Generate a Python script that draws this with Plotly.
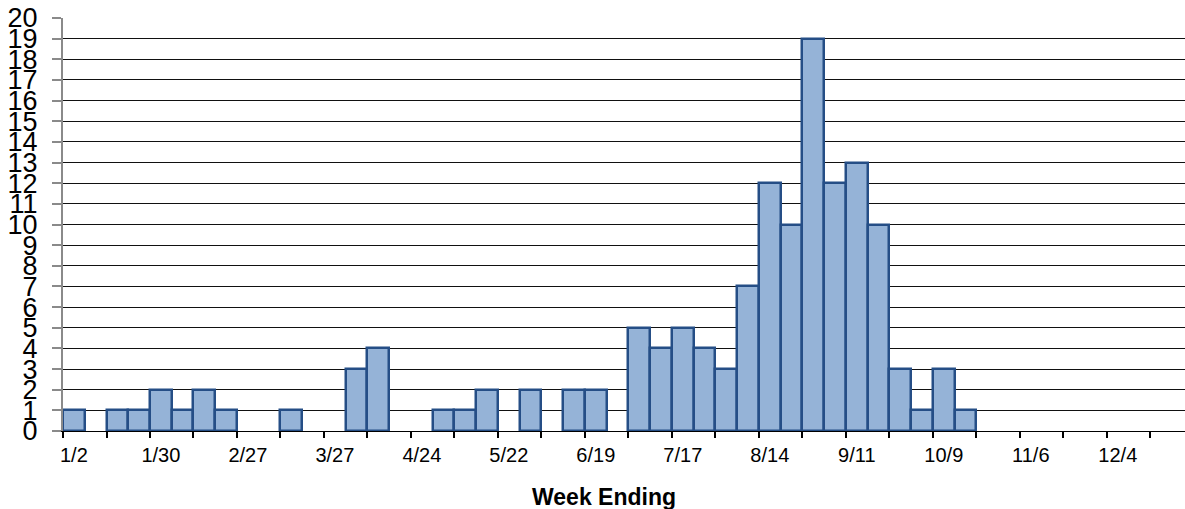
import plotly.graph_objects as go

weeks = ["1/2", "1/9", "1/16", "1/23", "1/30", "2/6", "2/13", "2/20", "2/27", "3/6",
         "3/13", "3/20", "3/27", "4/3", "4/10", "4/17", "4/24", "5/1", "5/8", "5/15",
         "5/22", "5/29", "6/5", "6/12", "6/19", "6/26", "7/3", "7/10", "7/17", "7/24",
         "7/31", "8/7", "8/14", "8/21", "8/28", "9/4", "9/11", "9/18", "9/25", "10/2",
         "10/9", "10/16", "10/23", "10/30", "11/6", "11/13", "11/20", "11/27", "12/4",
         "12/11", "12/18", "12/25"]

counts = [1, 0, 1, 1, 2, 1, 2, 1, 0, 0,
          1, 0, 0, 3, 4, 0, 0, 1, 1, 2,
          0, 2, 0, 2, 2, 0, 5, 4, 5, 4,
          3, 7, 12, 10, 19, 12, 13, 10, 3, 1,
          3, 1, 0, 0, 0, 0, 0, 0, 0,
          0, 0, 0]

tick_labels = ["1/2", "1/30", "2/27", "3/27", "4/24", "5/22", "6/19", "7/17",
               "8/14", "9/11", "10/9", "11/6", "12/4"]

y_ticks = list(range(0, 21))
x_title = "Week Ending"

xpos = list(range(len(weeks)))
yvals = [c if c > 0 else None for c in counts]

fig = go.Figure()
fig.add_trace(go.Bar(
    x=xpos, y=yvals, width=1,
    marker=dict(color="#95B3D7", line=dict(color="#254E86", width=2.5)),
    customdata=weeks,
    hovertemplate="%{customdata}: %{y}<extra></extra>",
))

fig.update_layout(
    width=1185, height=509,
    margin=dict(l=63, r=0, t=18, b=78),
    paper_bgcolor="white", plot_bgcolor="white",
    showlegend=False,
    font=dict(family="Liberation Sans, Arial, sans-serif", color="black"),
    bargap=0,
)

fig.update_xaxes(
    range=[-0.5, 51.09],
    tickmode="array",
    tickvals=[weeks.index(t) for t in tick_labels],
    ticktext=tick_labels,
    ticks="",
    tickfont=dict(size=20, color="black"),
    ticklabelstandoff=6,
    showgrid=False, zeroline=False,
    showline=True, linecolor="black", linewidth=1,
    minor=dict(tickmode="linear", tick0=-0.5, dtick=2, ticks="outside",
               ticklen=6, tickwidth=1.5, tickcolor="black", showgrid=False),
)

fig.update_yaxes(
    range=[0, 20],
    tickmode="array", tickvals=y_ticks, ticktext=[str(v) for v in y_ticks],
    ticks="outside", ticklen=9, tickwidth=2, tickcolor="#8a8a8a",
    tickfont=dict(size=27, color="black"),
    ticklabelstandoff=9,
    showgrid=True, gridcolor="#111111", gridwidth=1,
    zeroline=False,
    showline=True, linecolor="#8a8a8a", linewidth=2,
)

fig.add_annotation(
    text="<b>" + x_title + "</b>", xref="paper", yref="paper",
    x=(604 - 63) / (1185 - 63), y=(431 - 497) / 413,
    xanchor="center", yanchor="middle", showarrow=False,
    font=dict(size=23, color="black", family="Liberation Sans, Arial, sans-serif"),
)

fig.write_html("out.html", config={"displayModeBar": False})

with open("out.html", "r", encoding="utf-8") as f:
    html = f.read()
html = html.replace("<body>", '<body style="margin:0;padding:0;overflow:hidden">', 1)
with open("out.html", "w", encoding="utf-8") as f:
    f.write(html)
